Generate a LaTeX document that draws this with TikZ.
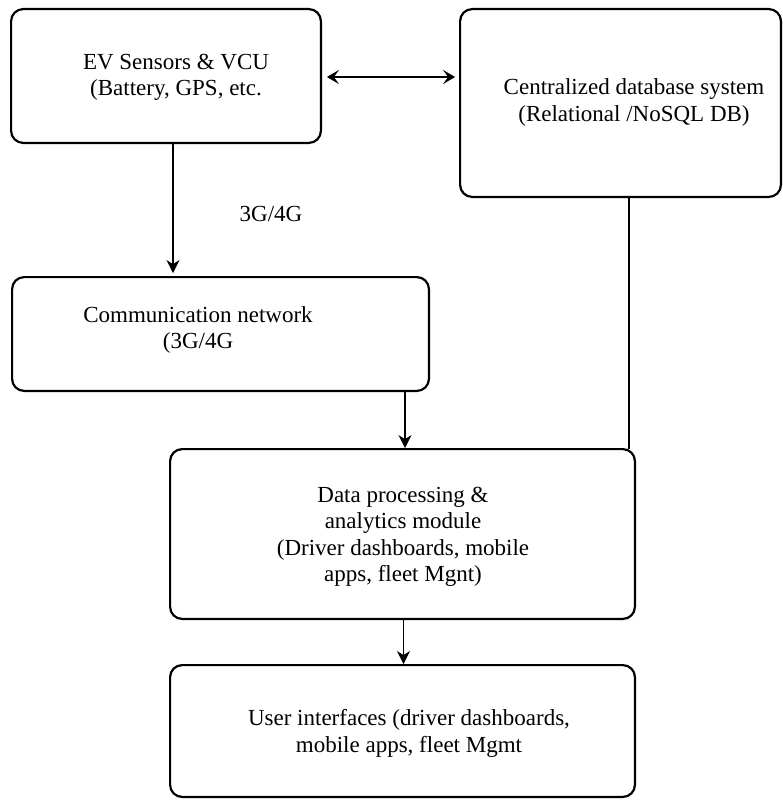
\documentclass[tikz,border=0pt]{standalone}
\usepackage{fontspec}
\setmainfont{Liberation Serif}
\usetikzlibrary{arrows.meta,calc}
\begin{document}
\begin{tikzpicture}[x=1pt,y=-1pt,
  box/.style={draw,line width=2.2pt,rounded corners=12pt,inner sep=0pt,outer sep=0pt},
  txt/.style={align=center,font=\fontsize{23}{26.5}\selectfont,inner sep=0pt},
  conn/.style={line width=1.8pt},
  arr/.style={conn,-{Stealth[length=13pt,width=13pt,inset=4pt]}},
  darr/.style={conn,{Stealth[length=12pt,width=14pt,inset=5pt]}-{Stealth[length=12pt,width=14pt,inset=5pt]}}]
\useasboundingbox (0,0) rectangle (783,800);
% boxes
\node[box,minimum width=309.8pt,minimum height=133.8pt] (b1) at (166,76) {};
\node[box,minimum width=320.8pt,minimum height=187.8pt] (b2) at (620.5,103) {};
\node[box,minimum width=416.8pt,minimum height=113.8pt] (b3) at (220.5,334) {};
\node[box,minimum width=464.8pt,minimum height=169.8pt] (b4) at (402.5,534) {};
\node[box,minimum width=464.8pt,minimum height=131.8pt] (b5) at (402.5,731) {};
% texts
\node[txt] (t1) at (176,77.5) {EV Sensors \& VCU\\(Battery, GPS, etc.};
\node[txt] (t2) at (634,102.5) {Centralized database system\\(Relational /NoSQL DB)};
\node[txt] (t3) at (198,330) {Communication network\\(3G/4G};
\node[txt] (t4) at (403,537) {Data processing \&\\analytics module\\(Driver dashboards, mobile\\apps, fleet Mgnt)};
\node[txt] (t5) at (409,733.5) {User interfaces (driver dashboards,\\mobile apps, fleet Mgmt};
\node[txt] (lab) at (271,214) {3G/4G};
% connectors
\coordinate (p1) at ($(b1.east)+(0,1)$);
\draw[darr,shorten <=6pt,shorten >=5pt] (p1) -- (p1 -| b2.west);
\coordinate (p2) at ($(b1.south)+(7,0)$);
\draw[arr,shorten >=4pt] (p2) -- (p2 |- b3.north);
\coordinate (p3) at ($(b3.south)+(184.5,0)$);
\draw[arr,shorten >=1pt] (p3) -- (p3 |- b4.north);
\coordinate (p4) at ($(b2.south)+(8.5,0)$);
\draw[conn,line width=1.3pt] (p4) -- (p4 |- b4.north);
\coordinate (p5) at ($(b4.south)+(1,0)$);
\draw[arr,shorten >=1pt] (p5) -- (p5 |- b5.north);
\end{tikzpicture}
\end{document}
